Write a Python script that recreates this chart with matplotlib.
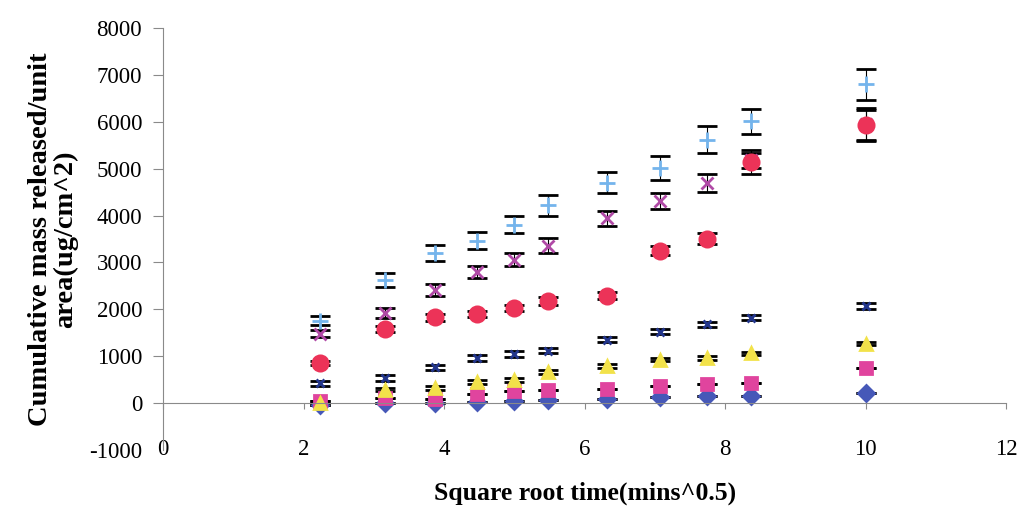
import matplotlib
matplotlib.use('Agg')
import matplotlib.pyplot as plt
import numpy as np

plt.rcParams['font.family'] = ['Liberation Serif', 'DejaVu Serif']
plt.rcParams['axes.unicode_minus'] = False

# x positions: square root of sampling time (mins)
sqrt_t = [2.236, 3.162, 3.873, 4.472, 5.0, 5.477, 6.325, 7.071, 7.746, 8.367, 10.0]

# cumulative mass released per unit area (ug/cm^2), one list per formulation
s1 = [-30, 0, 10, 30, 40, 60, 90, 120, 150, 160, 220]
s2 = [50, 100, 90, 200, 250, 270, 300, 360, 400, 430, 750]
s3 = [0, 290, 320, 450, 490, 660, 790, 930, 960, 1060, 1270]
s4 = [420, 530, 760, 960, 1050, 1120, 1350, 1520, 1680, 1820, 2070]
s5 = [1480, 1920, 2420, 2790, 3060, 3360, 3940, 4310, 4690, 5180, 5950]
s6 = [850, 1580, 1830, 1900, 2030, 2180, 2290, 3250, 3510, 5140, 5930]
s7 = [1760, 2630, 3200, 3460, 3800, 4220, 4700, 5010, 5620, 6010, 6800]

# error bars
e1 = [0] * 11
e2 = [0] * 11
e3 = [40, 40, 40, 40, 40, 40, 40, 40, 40, 40, 40]
e4 = [50, 60, 60, 60, 60, 60, 50, 50, 50, 50, 60]
e5 = [70, 110, 130, 130, 140, 160, 160, 180, 190, 160, 340]
e6 = [40, 60, 70, 70, 70, 80, 80, 100, 110, 250, 330]
e7 = [90, 150, 170, 180, 180, 220, 220, 260, 280, 270, 330]

x_ticks = [0, 2, 4, 6, 8, 10, 12]
y_ticks = [-1000, 0, 1000, 2000, 3000, 4000, 5000, 6000, 7000, 8000]

fig = plt.figure(figsize=(10.23, 5.18), dpi=100)
ax = fig.add_axes([163/1023, 1-450/518, (1006-163)/1023, (450-28)/518])

series = [
    (s1, e1, 'D', '#4658b8', 8),
    (s2, e2, 's', '#e0449e', 8.5),
    (s3, e3, '^', '#f2e24a', 9),
    (s4, e4, 'x', '#23368c', 6),
    (s5, e5, 'x', '#b04aa6', 9),
    (s6, e6, 'o', '#ec3358', 11),
    (s7, e7, '+', '#74b4ec', 11),
]
for vals, errs, mk, col, ms in series:
    ax.errorbar(sqrt_t, vals, yerr=errs, fmt=mk, color=col, ms=ms, mew=2,
                ecolor='black', elinewidth=0.8, capsize=7, capthick=2,
                linestyle='none')

ax.set_xlim(0, 12)
ax.set_ylim(-1000, 8000)
ax.set_xticks(x_ticks)
ax.set_yticks(y_ticks)

for s in ['top', 'right']:
    ax.spines[s].set_visible(False)
ax.spines['bottom'].set_position(('data', 0))
ax.spines['bottom'].set_color('#8a8a8a')
ax.spines['left'].set_color('#8a8a8a')

ax.tick_params(axis='y', direction='out', length=7, color='#8a8a8a',
               labelsize=16.5, pad=8)
ax.tick_params(axis='x', direction='out', length=4, color='#8a8a8a',
               labelsize=16.5, pad=22)
ax.yaxis.get_major_ticks()[0].tick1line.set_visible(False)   # no tick mark at -1000

ax.set_ylabel('Cumulative mass released/unit\narea(ug/cm^2)', fontsize=20.5,
              fontweight='bold', labelpad=8, linespacing=1.0)
fig.text(585/1023, 1-493/518, 'Square root time(mins^0.5)', fontsize=18.5,
         fontweight='bold', ha='center', va='center')

fig.savefig('out.png', dpi=100, facecolor='white')
